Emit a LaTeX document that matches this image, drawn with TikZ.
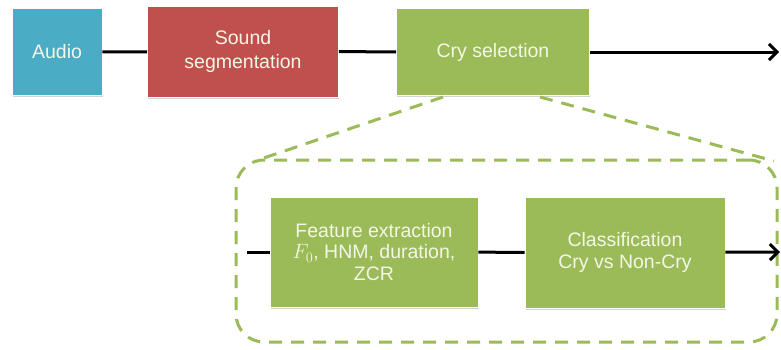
\documentclass[tikz,border=0pt]{standalone}
\usepackage{fontspec}
\setmainfont{Liberation Sans}
\usetikzlibrary{arrows.meta,shadows,calc}
\definecolor{cblue}{HTML}{4BACC6}
\definecolor{cred}{HTML}{C0504D}
\definecolor{cgreen}{HTML}{9BBB59}
\definecolor{ctext}{HTML}{F4F6E6}
\begin{document}
\begin{tikzpicture}[x=1pt,y=-1pt,
  box/.style={draw=white,line width=0.8pt,inner sep=0pt,align=center,text=ctext,
    font=\fontsize{19.5}{24}\selectfont,
    drop shadow={opacity=0.35,shadow xshift=0.8pt,shadow yshift=-1.8pt,fill=gray}},
  conn/.style={line width=3pt,black},
  arr/.style={conn,-{Straight Barb[length=8pt,width=16pt,line width=3pt]}},
  zoomline/.style={draw=cgreen,line width=3pt,dash pattern=on 13pt off 9pt}]
\useasboundingbox (0,0) rectangle (781,349);
\node[box,fill=cblue,minimum width=90pt,minimum height=87pt] (audio) at (57,52) {Audio};
\node[box,fill=cred,minimum width=191pt,minimum height=91pt] (seg) at (243,51.5) {Sound\\segmentation};
\node[box,fill=cgreen,minimum width=193pt,minimum height=87pt] (cry) at (493,52) {Cry selection};
\coordinate (out1) at (779,52);
\draw[conn] (audio) -- (seg);
\draw[conn] (seg) -- (cry);
\draw[arr] (cry) -- (out1);
% zoom region
\node[zoomline,rounded corners=28pt,minimum width=541pt,minimum height=182pt,inner sep=0pt] (zoombox) at (506.5,251) {};
\coordinate (zl1) at (443,97);
\coordinate (zl2) at (255,161);
\coordinate (zr1) at (540,97);
\coordinate (zr2) at (774,161);
\draw[zoomline] (zl1) -- (zl2);
\draw[zoomline] (zr1) -- (zr2);
\node[box,fill=cgreen,minimum width=208pt,minimum height=110pt,font=\fontsize{19.5}{21.5}\selectfont] (feat) at (374,252) {Feature extraction\\$F_0$, HNM, duration,\\ZCR};
\node[box,fill=cgreen,minimum width=200pt,minimum height=111pt,font=\fontsize{19.5}{21.5}\selectfont] (cls) at (625,252.5) {Classification\\Cry vs Non-Cry};
\coordinate (in2) at (247,252);
\coordinate (out2) at (780,252);
\draw[conn] (in2) -- (feat);
\draw[conn] (feat) -- (cls);
\draw[arr] (cls) -- (out2);
\end{tikzpicture}
\end{document}
